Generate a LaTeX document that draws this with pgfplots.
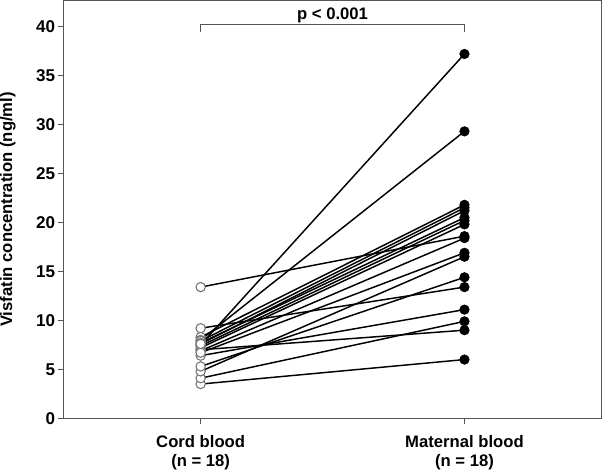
\documentclass[border=0pt]{standalone}
\usepackage{fontspec}
\setmainfont{Liberation Sans}
\usepackage{pgfplots}
\usepackage{pgfplotstable}
\pgfplotsset{compat=1.18}
\pgfplotstableread{
cord maternal
3.5 6.0
4.1 9.9
4.8 16.5
5.3 14.4
6.4 11.1
7.0 9.0
9.2 13.4
13.4 18.6
8.3 21.8
8.0 29.3
7.9 21.5
7.7 20.5
7.5 37.2
7.4 20.2
7.2 19.8
6.9 18.4
6.7 16.9
7.6 21.2
}\data
\definecolor{axgray}{HTML}{555555}
\begin{document}
\begin{tikzpicture}
\begin{axis}[
  scale only axis,
  width=403.5pt, height=313.5pt,
  xmin=0.481, xmax=2.519,
  ymin=0, ymax=42.65,
  axis line style={axgray, line width=0.9pt},
  xtick={1,2},
  xticklabels={{Cord blood\\(n = 18)},{Maternal blood\\(n = 18)}},
  xticklabel style={align=center, font=\bfseries\fontsize{12.5}{14}\selectfont, yshift=-5pt},
  ytick={0,5,...,40},
  yticklabel style={font=\bfseries\fontsize{12.8}{14}\selectfont, xshift=1.5pt},
  /pgf/number format/assume math mode=true,
  tick align=outside,
  tick pos=left,
  major tick length=4.5pt,
  tick style={axgray, line width=0.7pt},
  ylabel={Visfatin concentration (ng/ml)},
  ylabel style={font=\bfseries\fontsize{12.5}{14}\selectfont, inner sep=0pt, at={(axis description cs:-0.119,0.5)}, anchor=north},
  clip=false,
]
\addplot[black, line width=1.1pt] coordinates {(1,3.5) (2,6.0)};
\addplot[black, line width=1.1pt] coordinates {(1,4.1) (2,9.9)};
\addplot[black, line width=1.1pt] coordinates {(1,4.8) (2,16.5)};
\addplot[black, line width=1.1pt] coordinates {(1,5.3) (2,14.4)};
\addplot[black, line width=1.1pt] coordinates {(1,6.4) (2,11.1)};
\addplot[black, line width=1.1pt] coordinates {(1,7.0) (2,9.0)};
\addplot[black, line width=1.1pt] coordinates {(1,9.2) (2,13.4)};
\addplot[black, line width=1.1pt] coordinates {(1,13.4) (2,18.6)};
\addplot[black, line width=1.1pt] coordinates {(1,8.3) (2,21.8)};
\addplot[black, line width=1.1pt] coordinates {(1,8.0) (2,29.3)};
\addplot[black, line width=1.1pt] coordinates {(1,7.9) (2,21.5)};
\addplot[black, line width=1.1pt] coordinates {(1,7.7) (2,20.5)};
\addplot[black, line width=1.1pt] coordinates {(1,7.5) (2,37.2)};
\addplot[black, line width=1.1pt] coordinates {(1,7.4) (2,20.2)};
\addplot[black, line width=1.1pt] coordinates {(1,7.2) (2,19.8)};
\addplot[black, line width=1.1pt] coordinates {(1,6.9) (2,18.4)};
\addplot[black, line width=1.1pt] coordinates {(1,6.7) (2,16.9)};
\addplot[black, line width=1.1pt] coordinates {(1,7.6) (2,21.2)};
\addplot[only marks, mark=*, mark size=3.5pt, mark options={fill=white, draw=gray!90!black, line width=0.8pt}] table[x expr=1, y=cord] {\data};
\addplot[only marks, mark=*, mark size=3.6pt, mark options={fill=black, draw=black}] table[x expr=2, y=maternal] {\data};
\draw[axgray, line width=0.8pt] (axis cs:1,39.4) -- (axis cs:1,40.2) -- (axis cs:2,40.2) -- (axis cs:2,39.4);
\node[font=\bfseries\fontsize{12.5}{14}\selectfont, anchor=base] at (axis cs:1.5,40.75) {p < 0.001};
\end{axis}
\end{tikzpicture}
\end{document}
